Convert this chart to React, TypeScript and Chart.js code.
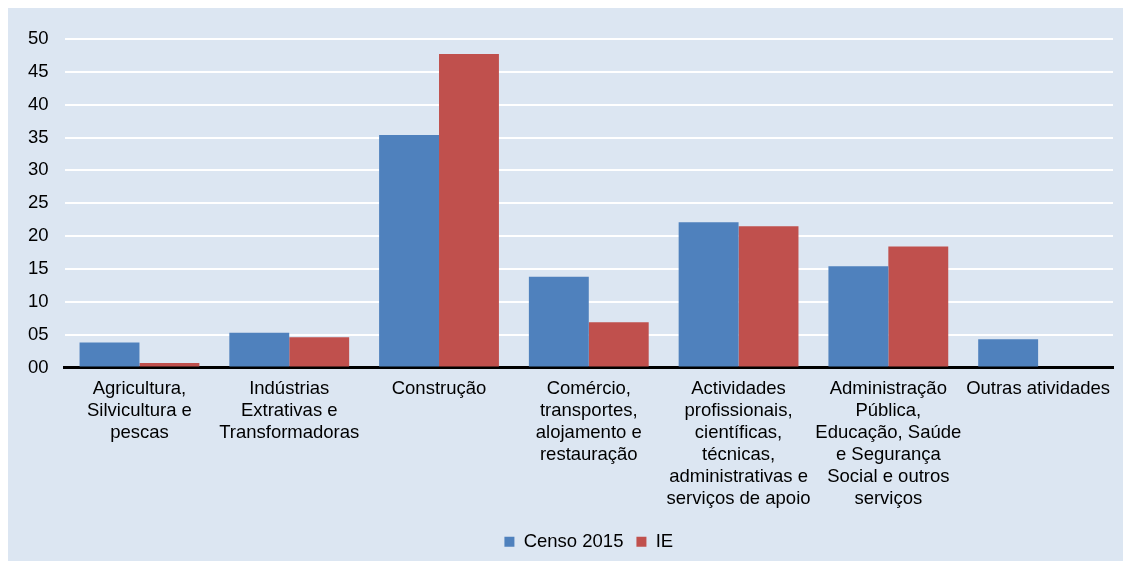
import React, { useEffect, useRef } from "react";
import { Chart, registerables } from "chart.js";

Chart.register(...registerables);

const categories: string[][] = [
  ["Agricultura,", "Silvicultura e", "pescas"],
  ["Indústrias", "Extrativas e", "Transformadoras"],
  ["Construção"],
  ["Comércio,", "transportes,", "alojamento e", "restauração"],
  ["Actividades", "profissionais,", "científicas,", "técnicas,", "administrativas e", "serviços de apoio"],
  ["Administração", "Pública,", "Educação, Saúde", "e Segurança", "Social e outros", "serviços"],
  ["Outras atividades"],
];

const censo2015 = [3.8, 5.3, 35.4, 13.8, 22.1, 15.4, 4.3];
const ie = [0.7, 4.6, 47.7, 6.9, 21.5, 18.4, 0];

const seriesNames = ["Censo 2015", "IE"];

const FONT = "'Liberation Sans', Arial, sans-serif";
const FS = 18.5;

export default function App() {
  const ref = useRef<HTMLCanvasElement | null>(null);

  useEffect(() => {
    if (!ref.current) return;
    const chart = new Chart(ref.current, {
      type: "bar",
      data: {
        labels: categories,
        datasets: [
          {
            label: seriesNames[0],
            data: censo2015,
            backgroundColor: "#4f81bd",
            categoryPercentage: 0.8,
            barPercentage: 1.0,
          },
          {
            label: seriesNames[1],
            data: ie,
            backgroundColor: "#c0504d",
            categoryPercentage: 0.8,
            barPercentage: 1.0,
          },
        ],
      },
      options: {
        animation: false,
        responsive: true,
        maintainAspectRatio: false,
        layout: { padding: { top: 31, right: 10, left: 4, bottom: 0 } },
        plugins: {
          legend: {
            position: "bottom",
            fullSize: false,
            labels: {
              boxWidth: 10,
              boxHeight: 10,
              color: "#000",
              font: { family: FONT, size: FS },
              padding: 13,
            },
          },
          tooltip: { enabled: false },
        },
        scales: {
          x: {
            grid: { display: false, drawTicks: false },
            border: { display: true, color: "#000", width: 3 },
            ticks: {
              color: "#000",
              font: { family: FONT, size: FS, lineHeight: 22 / FS },
              maxRotation: 0,
              autoSkip: false,
              padding: 10,
            },
          },
          y: {
            min: 0,
            max: 50,
            grid: {
              drawTicks: false,
              color: (ctx: any) => (ctx.tick && ctx.tick.value === 0 ? "rgba(0,0,0,0)" : "#ffffff"),
              lineWidth: 2,
            },
            border: { display: false },
            ticks: {
              stepSize: 5,
              color: "#000",
              font: { family: FONT, size: FS },
              padding: 16,
              callback: (v: any) => String(v).padStart(2, "0"),
            },
          },
        },
      },
    });
    return () => chart.destroy();
  }, []);

  return (
    <div style={{ background: "#dce6f2", height: 553, position: "relative" }}>
      <canvas ref={ref} />
    </div>
  );
}
